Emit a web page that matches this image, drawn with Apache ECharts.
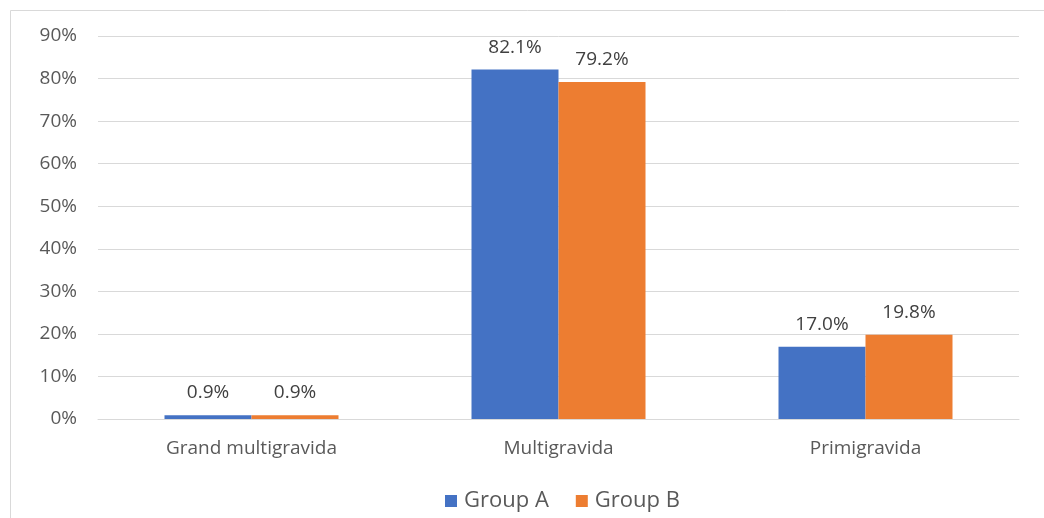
<!DOCTYPE html>
<html>
<head>
<meta charset="utf-8">
<script src="https://cdn.jsdelivr.net/npm/echarts@6/dist/echarts.min.js"></script>
<style>
  html, body { margin: 0; padding: 0; background: #fff; }
  #root { width: 1044px; height: 518px; }
</style>
</head>
<body>
<div id="root"></div>
<script>
// 数据
var categories = ['Grand multigravida', 'Multigravida', 'Primigravida'];
var groupA = [0.9, 82.1, 17.0];
var groupB = [0.9, 79.2, 19.8];
var seriesNames = ['Group A', 'Group B'];

var textColor = '#595959';
var fontName = 'Open Sans';

function makeSeries(name, data, color) {
  return {
    name: name,
    type: 'bar',
    data: data,
    barWidth: 87,
    barGap: '0%',
    itemStyle: { color: color },
    label: {
      show: true,
      position: 'top',
      distance: 13,
      color: '#404040',
      fontFamily: fontName,
      fontSize: 19,
      formatter: function(p) {
        return p.value.toFixed(1) + '%';
      }
    }
  };
}

var option = {
  animation: false,
  backgroundColor: '#fff',
  textStyle: { fontFamily: fontName },
  graphic: [{
    type: 'rect',
    shape: { x: 10.5, y: 10.5, width: 1060, height: 540 },
    style: { fill: 'none', stroke: '#d9d9d9', lineWidth: 1 },
    silent: true
  }],
  legend: {
    data: seriesNames,
    bottom: 1,
    left: 440,
    icon: 'rect',
    itemWidth: 12,
    itemHeight: 12,
    itemGap: 27,
    itemStyle: { borderWidth: 0 },
    textStyle: { color: textColor, fontSize: 22, fontFamily: fontName, padding: [0, 0, 0, 2] }
  },
  grid: {
    left: 98,
    right: 25,
    top: 36,
    bottom: 99,
    containLabel: false
  },
  xAxis: {
    type: 'category',
    data: categories,
    axisTick: { show: false },
    axisLine: { lineStyle: { color: '#d9d9d9', width: 1 } },
    axisLabel: { color: textColor, fontSize: 19, margin: 20, fontFamily: fontName }
  },
  yAxis: {
    type: 'value',
    min: 0,
    max: 90,
    interval: 10,
    axisLine: { show: false },
    axisTick: { show: false },
    splitLine: { lineStyle: { color: '#d9d9d9', width: 1 } },
    axisLabel: {
      color: textColor,
      fontSize: 19,
      margin: 21,
      fontFamily: fontName,
      formatter: function(v) { return v + '%'; }
    }
  },
  series: [
    makeSeries(seriesNames[0], groupA, '#4472c4'),
    makeSeries(seriesNames[1], groupB, '#ed7d31')
  ]
};

var myChart = echarts.init(document.getElementById('root'));
myChart.setOption(option);
</script>
</body>
</html>
